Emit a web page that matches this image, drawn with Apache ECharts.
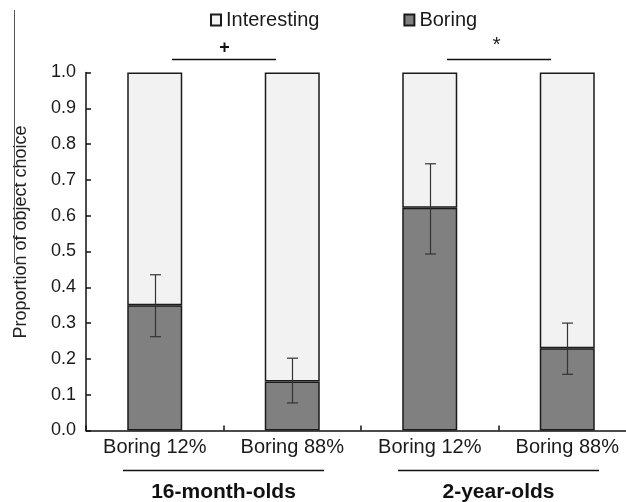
<!DOCTYPE html>
<html>
<head>
<meta charset="utf-8">
<script src="https://cdn.jsdelivr.net/npm/echarts@6/dist/echarts.min.js"></script>
<style>html,body{margin:0;padding:0;background:#fff;}#c{width:626px;height:502px;}</style>
</head>
<body>
<div id="c"></div>
<script>
var categories = ['Boring 12%', 'Boring 88%', 'Boring 12%', 'Boring 88%'];
var boring = [0.35, 0.137, 0.622, 0.23];
var interesting = boring.map(function (v) { return +(1 - v).toFixed(3); });
var errLow = [0.262, 0.077, 0.493, 0.157];
var errHigh = [0.435, 0.202, 0.745, 0.30];
var yTicks = [0, 0.1, 0.2, 0.3, 0.4, 0.5, 0.6, 0.7, 0.8, 0.9, 1.0];
var groups = [{ name: '16-month-olds', from: 0, to: 1, sig: '+' }, { name: '2-year-olds', from: 2, to: 3, sig: '*' }];

var FONT = "'Liberation Sans', Arial, sans-serif";
var chart = echarts.init(document.getElementById('c'), null, { renderer: 'canvas' });

var errData = errLow.map(function (l, i) { return [i, l, errHigh[i]]; });

var option = {
  animation: false,
  backgroundColor: '#fff',
  textStyle: { fontFamily: FONT, color: '#222' },
  legend: {
    left: 210, top: 10, padding: 0, itemGap: 84, itemWidth: 10, itemHeight: 11,
    icon: 'rect',
    textStyle: { fontSize: 20, color: '#1a1a1a', fontFamily: FONT },
    data: ['Interesting', 'Boring']
  },
  grid: { left: 86, top: 72.5, right: -10, height: 358, outerBoundsMode: 'none', containLabel: false },
  xAxis: {
    type: 'category', data: categories,
    axisLine: { lineStyle: { color: '#111', width: 1.5 } },
    axisTick: { show: true, inside: true, length: 5, lineStyle: { color: '#111', width: 1.5 } },
    axisLabel: { fontSize: 20, color: '#1a1a1a', margin: 7, fontFamily: FONT }
  },
  yAxis: {
    type: 'value', min: 0, max: 1, interval: 0.1,
    axisLine: { show: true, lineStyle: { color: '#111', width: 1.5 } },
    axisTick: { show: true, inside: true, length: 5, lineStyle: { color: '#111', width: 1.5 } },
    splitLine: { show: false },
    axisLabel: { fontSize: 18, color: '#1a1a1a', margin: 10, fontFamily: FONT, formatter: function (v) { return v.toFixed(1); } }
  },
  series: [
    { name: 'Boring', type: 'bar', stack: 'a', barWidth: 55, data: boring,
      itemStyle: { color: '#808080', borderColor: '#1a1a1a', borderWidth: 1.5 } },
    { name: 'Interesting', type: 'bar', stack: 'a', barWidth: 55, data: interesting,
      itemStyle: { color: '#f2f2f2', borderColor: '#1a1a1a', borderWidth: 1.5 } },
    { name: 'err', type: 'custom', data: errData, z: 10,
      renderItem: function (params, api) {
        var lo = api.coord([api.value(0), api.value(1)]);
        var hi = api.coord([api.value(0), api.value(2)]);
        var x = Math.round(lo[0]) + 0.5, hw = 5.5;
        var st = { stroke: '#333', lineWidth: 1.2 };
        return { type: 'group', children: [
          { type: 'line', shape: { x1: x, y1: lo[1], x2: x, y2: hi[1] }, style: st },
          { type: 'line', shape: { x1: x - hw, y1: lo[1], x2: x + hw, y2: lo[1] }, style: st },
          { type: 'line', shape: { x1: x - hw, y1: hi[1], x2: x + hw, y2: hi[1] }, style: st }
        ] };
      } }
  ]
};
chart.setOption(option);

var els = [];
groups.forEach(function (g) {
  var a = chart.convertToPixel({ xAxisIndex: 0 }, g.from);
  var b = chart.convertToPixel({ xAxisIndex: 0 }, g.to);
  var mid = (a + b) / 2;
  var ySig = chart.convertToPixel({ yAxisIndex: 0 }, 1.036);
  els.push({ type: 'line', shape: { x1: mid - 100.5, y1: 470.5, x2: mid + 100.5, y2: 470.5 }, style: { stroke: '#111', lineWidth: 1.5 } });
  els.push({ type: 'text', x: mid, y: 492, style: { text: g.name, font: 'bold 21px ' + FONT, fill: '#111', align: 'center', verticalAlign: 'middle' } });
  els.push({ type: 'line', shape: { x1: mid - 51.5, y1: ySig, x2: mid + 52.5, y2: ySig }, style: { stroke: '#111', lineWidth: 1.5 } });
  if (g.sig === '+') {
    els.push({ type: 'text', x: mid + 1, y: ySig - 12, style: { text: '+', font: 'bold 18px ' + FONT, fill: '#111', align: 'center', verticalAlign: 'middle' } });
  } else {
    els.push({ type: 'text', x: mid - 2, y: ySig - 14, style: { text: '*', font: '21px ' + FONT, fill: '#222', align: 'center', verticalAlign: 'middle' } });
  }
});
els.push({ type: 'text', x: 21, y: 232, rotation: Math.PI / 2, style: { text: 'Proportion of object choice', font: '18px ' + FONT, fill: '#222', align: 'center', verticalAlign: 'middle' } });
els.push({ type: 'line', shape: { x1: 14.5, y1: 10, x2: 14.5, y2: 263 }, style: { stroke: '#555', lineWidth: 1 } });
chart.setOption({ graphic: { elements: els } });
</script>
</body>
</html>
